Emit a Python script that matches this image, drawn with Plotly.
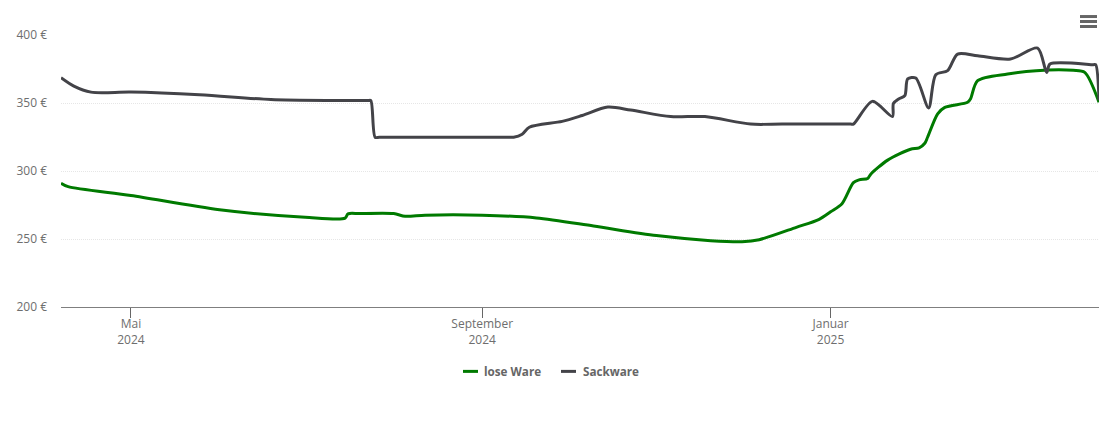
"""Preisverlauf: lose Ware und Sackware"""

import plotly.graph_objects as go

lose_dates = [
    "2024-04-06 12:00", "2024-04-09", "2024-05-01", "2024-06-01", "2024-07-01",
    "2024-07-15", "2024-07-16 00:00", "2024-07-20", "2024-08-01", "2024-08-05", "2024-08-12",
    "2024-09-01", "2024-09-20", "2024-10-10", "2024-11-01", "2024-11-20",
    "2024-12-01", "2024-12-07", "2024-12-20", "2024-12-28", "2025-01-01",
    "2025-01-05", "2025-01-09", "2025-01-11", "2025-01-14", "2025-01-15",
    "2025-01-21", "2025-01-29", "2025-02-01", "2025-02-03", "2025-02-04",
    "2025-02-07 12:00", "2025-02-10", "2025-02-18", "2025-02-19", "2025-02-21 12:00",
    "2025-03-04", "2025-03-14", "2025-03-27", "2025-03-31", "2025-04-05",
]
lose_values = [
    291, 288.5, 282, 271.5, 266,
    265.3, 268.5, 268.7, 268.7, 266.7, 267.5,
    267.5, 265.5, 259.5, 252.5, 248.8,
    248, 249.5, 258.6, 264.5, 270,
    276, 291.5, 293.5, 294.5, 297.5,
    308, 316, 317, 320.4, 325,
    342, 346.8, 350.5, 353, 366.4,
    371.3, 373.8, 374, 372.5, 350.5,
]

sack_dates = [
    "2024-04-06 12:00", "2024-04-11", "2024-04-17", "2024-05-01", "2024-05-25",
    "2024-06-19", "2024-07-10", "2024-07-23", "2024-07-24", "2024-07-25 12:00",
    "2024-07-27", "2024-08-20", "2024-09-11", "2024-09-12", "2024-09-15",
    "2024-09-17 12:00", "2024-09-29", "2024-10-06", "2024-10-15", "2024-10-23",
    "2024-11-06", "2024-11-18", "2024-12-04", "2024-12-15", "2025-01-08",
    "2025-01-09", "2025-01-15 16:00", "2025-01-22 16:00", "2025-01-23", "2025-01-24 20:00",
    "2025-01-27", "2025-01-28", "2025-01-30 20:00", "2025-02-04 08:00", "2025-02-06 20:00",
    "2025-02-11", "2025-02-14 12:00", "2025-02-21 12:00", "2025-03-05", "2025-03-14 12:00",
    "2025-03-17 16:00", "2025-03-18 20:00", "2025-04-03 00:00", "2025-04-03 20:00", "2025-04-05",
]
sack_values = [
    368.6, 362.4, 358, 358, 356,
    352.5, 351.8, 351.8, 351.8, 324.8,
    324.8, 324.8, 324.8, 324.8, 327,
    332.2, 336.5, 340.8, 347, 344.8,
    340, 340, 334.5, 334.5, 334.5,
    334.5, 351.2, 340, 349.6, 352.9,
    355.4, 367.7, 368.4, 346.4, 370.8,
    373.8, 386, 384.7, 382.3, 390.4,
    372.5, 378.7, 378.2, 378.2, 352,
]

tick_dates = ["2024-05-01", "2024-09-01", "2025-01-01"]
tick_labels = ["Mai<br>2024", "September<br>2024", "Januar<br>2025"]
y_ticks = [200, 250, 300, 350, 400]
y_labels = ["200 €", "250 €", "300 €", "350 €", "400 €"]

PLOT_L, PLOT_R, PLOT_T, PLOT_B = 61, 1099, 34.5, 307


def paper_x(px):
    return (px - PLOT_L) / (PLOT_R - PLOT_L)


def paper_y(px):
    return (PLOT_B - px) / (PLOT_B - PLOT_T)


fig = go.Figure()
fig.add_trace(go.Scatter(
    x=lose_dates, y=lose_values, mode="lines", name="lose Ware",
    line=dict(color="#007a00", width=3, shape="spline", smoothing=0.8),
))
fig.add_trace(go.Scatter(
    x=sack_dates, y=sack_values, mode="lines", name="Sackware",
    line=dict(color="#434348", width=3, shape="spline", smoothing=0.8),
))

fig.update_layout(
    width=1110,
    height=422,
    margin=dict(l=PLOT_L, r=1110 - PLOT_R, t=PLOT_T, b=422 - PLOT_B),
    paper_bgcolor="white",
    plot_bgcolor="white",
    font=dict(family="Open Sans", size=12, color="#6e6e6e"),
    showlegend=False,
    xaxis=dict(
        range=["2024-04-06 12:00", "2025-04-05"],
        tickvals=tick_dates,
        ticktext=tick_labels,
        ticks="outside",
        ticklen=10,
        tickcolor="#666666",
        ticklabelstandoff=-4,
        showgrid=False,
        showline=True,
        linecolor="#7f7f7f",
        zeroline=False,
    ),
    yaxis=dict(
        range=[200, 400],
        tickvals=y_ticks,
        ticktext=y_labels,
        ticklabelstandoff=13,
        gridcolor="#e6e6e6",
        griddash="1px,1px",
        gridwidth=1,
        showline=False,
        zeroline=False,
    ),
)

# Legende von Hand: kurze Linien wie im Original
for name, color, line_start, line_end, text_start in [
    ("lose Ware", "#007a00", 463, 478, 483),
    ("Sackware", "#434348", 561, 576, 582),
]:
    fig.add_shape(
        type="line", xref="paper", yref="paper",
        x0=paper_x(line_start), x1=paper_x(line_end),
        y0=paper_y(371.5), y1=paper_y(371.5),
        line=dict(color=color, width=3),
    )
    fig.add_annotation(
        text=name, xref="paper", yref="paper", showarrow=False,
        x=paper_x(text_start), y=paper_y(371.5),
        xanchor="left", yanchor="middle", xshift=-1,
        font=dict(size=11.7, color="#666666", weight="bold"),
    )

# Menü-Symbol oben rechts
for top in [16, 21, 26]:
    fig.add_shape(
        type="line", xref="paper", yref="paper",
        x0=paper_x(1080), x1=paper_x(1097),
        y0=paper_y(top), y1=paper_y(top),
        line=dict(color="#666666", width=3),
    )

fig.write_html(
    "out.html",
    config={"displayModeBar": False},
    post_script="document.body.style.margin = '0';",
)
